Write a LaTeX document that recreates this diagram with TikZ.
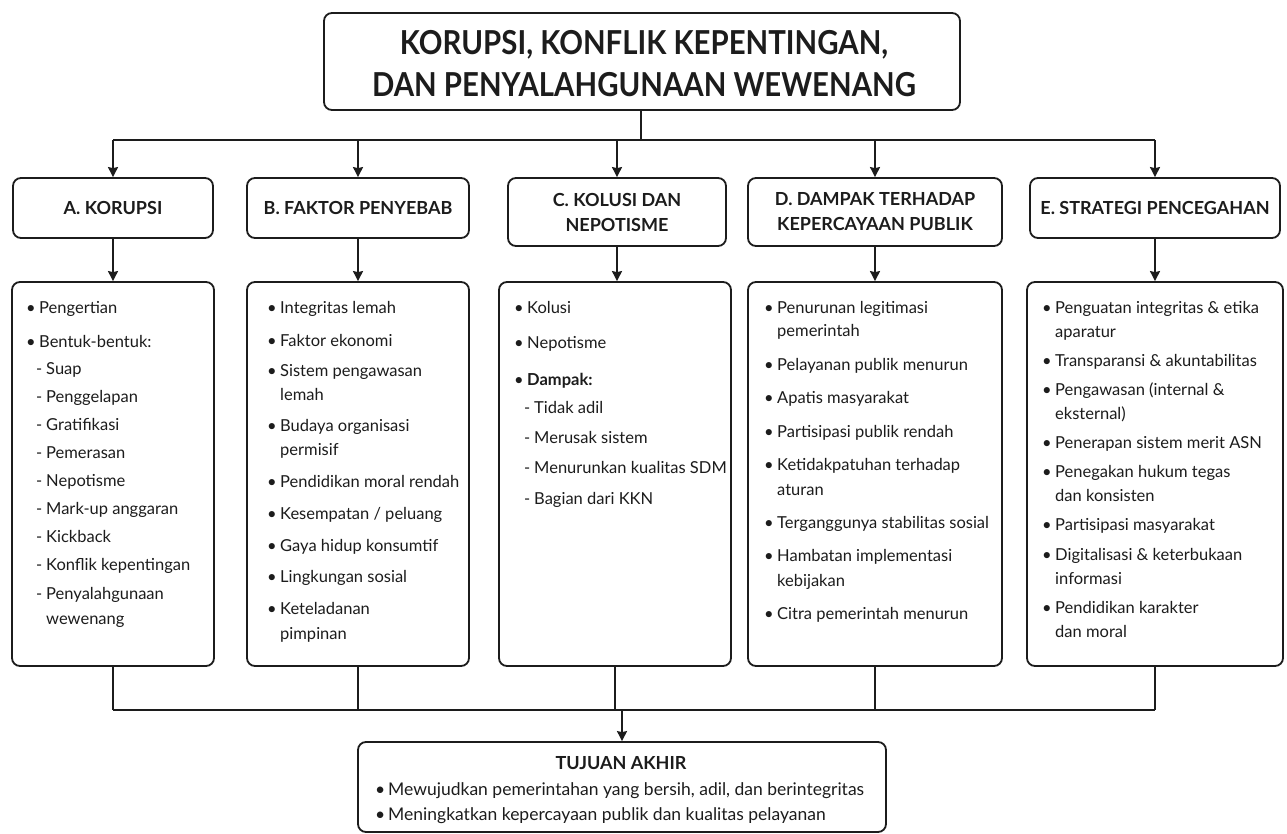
\documentclass[tikz,border=0pt]{standalone}
\usepackage{fontspec}
\setmainfont{Lato}
\usetikzlibrary{arrows.meta}
\definecolor{ink}{HTML}{1C1C1C}
% list helpers: bullet item, dash sub-item, continuation lines
\newcommand\lbul[1]{\makebox[13pt][l]{•}#1}
\newcommand\ldash[1]{\hspace*{10pt}\makebox[10pt][l]{-}#1}
\newcommand\lcont[1]{\hspace*{13pt}#1}
\newcommand\ldcont[1]{\hspace*{20pt}#1}
\tikzset{
  box/.style={draw=ink, line width=1.8pt, rounded corners=8pt, fill=white, inner sep=0pt},
  hdr/.style={box, font=\fontsize{18}{25}\selectfont\bfseries, align=center, text=ink},
  list/.style={anchor=base west, inner sep=0pt, text=ink, font=\fontsize{16.5}{24}\selectfont},
  link/.style={draw=ink, line width=1.8pt},
  arr/.style={link, -{Stealth[length=10pt,width=10pt,inset=1pt]}}
}
\begin{document}
\begin{tikzpicture}[x=1pt,y=-1pt]
\useasboundingbox[fill=white] (0,0) rectangle (1287,834);

% title
\node[box, minimum width=636pt, minimum height=97pt] (title) at (642,61.5) {};
\node[inner sep=0pt, text=ink, font=\fontsize{33}{42}\selectfont\bfseries] (titleT) at (644,67.6)
  {\scalebox{0.89}[1]{\begin{tabular}{@{}c@{}}KORUPSI, KONFLIK KEPENTINGAN,\\DAN PENYALAHGUNAAN WEWENANG\end{tabular}}};

% section headers
\node[hdr, minimum width=200pt, minimum height=60pt] (hA) at (113,208) {A. KORUPSI};
\node[hdr, minimum width=222pt, minimum height=60pt] (hB) at (358,208) {B. FAKTOR PENYEBAB};
\node[hdr, minimum width=218pt, minimum height=68pt] (hC) at (617,212) {C. KOLUSI DAN\\NEPOTISME};
\node[hdr, minimum width=254pt, minimum height=68pt] (hD) at (875,212) {D. DAMPAK TERHADAP\\KEPERCAYAAN PUBLIK};
\node[hdr, minimum width=250pt, minimum height=60pt] (hE) at (1155,208) {E. STRATEGI PENCEGAHAN};

% content boxes
\node[box, minimum width=202pt, minimum height=384pt] (cA) at (113,474) {};
\node[box, minimum width=222pt, minimum height=384pt] (cB) at (358,474) {};
\node[box, minimum width=232pt, minimum height=384pt] (cC) at (615,474) {};
\node[box, minimum width=254pt, minimum height=384pt] (cD) at (875,474) {};
\node[box, minimum width=256pt, minimum height=384pt] (cE) at (1155,474) {};

% lists
\node[list] (lA) at (26,313) {\begin{tabular}[t]{@{}l@{}}
\lbul{Pengertian}\\[10pt]
\lbul{Bentuk-bentuk:}\\[3pt]
\ldash{Suap}\\[4pt]
\ldash{Penggelapan}\\[4pt]
\ldash{Gratifikasi}\\[4pt]
\ldash{Pemerasan}\\[4pt]
\ldash{Nepotisme}\\[4pt]
\ldash{Mark-up anggaran}\\[4pt]
\ldash{Kickback}\\[4pt]
\ldash{Konflik kepentingan}\\[5pt]
\ldash{Penyalahgunaan}\\[1pt]
\ldcont{wewenang}
\end{tabular}};

\node[list] (lB) at (267,313) {\begin{tabular}[t]{@{}l@{}}
\lbul{Integritas lemah}\\[9pt]
\lbul{Faktor ekonomi}\\[6pt]
\lbul{Sistem pengawasan}\\
\lcont{lemah}\\[7pt]
\lbul{Budaya organisasi}\\
\lcont{permisif}\\[8pt]
\lbul{Pendidikan moral rendah}\\[8pt]
\lbul{Kesempatan / peluang}\\[8pt]
\lbul{Gaya hidup konsumtif}\\[7pt]
\lbul{Lingkungan sosial}\\[8pt]
\lbul{Keteladanan}\\[1pt]
\lcont{pimpinan}
\end{tabular}};

\node[list] (lC) at (514,313) {\begin{tabular}[t]{@{}l@{}}
\lbul{Kolusi}\\[11pt]
\lbul{Nepotisme}\\[13pt]
\lbul{\bfseries Dampak:}\\[4pt]
\ldash{Tidak adil}\\[6pt]
\ldash{Merusak sistem}\\[6pt]
\ldash{Menurunkan kualitas SDM}\\[7pt]
\ldash{Bagian dari KKN}
\end{tabular}};

\node[list] (lD) at (764,313) {\begin{tabular}[t]{@{}l@{}}
\lbul{Penurunan legitimasi}\\[-1pt]
\lcont{pemerintah}\\[10pt]
\lbul{Pelayanan publik menurun}\\[9pt]
\lbul{Apatis masyarakat}\\[10pt]
\lbul{Partisipasi publik rendah}\\[9pt]
\lbul{Ketidakpatuhan terhadap}\\[1pt]
\lcont{aturan}\\[9pt]
\lbul{Terganggunya stabilitas sosial}\\[9pt]
\lbul{Hambatan implementasi}\\[1pt]
\lcont{kebijakan}\\[9pt]
\lbul{Citra pemerintah menurun}
\end{tabular}};

\node[list] (lE) at (1042,313) {\begin{tabular}[t]{@{}l@{}}
\lbul{Penguatan integritas \& etika}\\
\lcont{aparatur}\\[5pt]
\lbul{Transparansi \& akuntabilitas}\\[5pt]
\lbul{Pengawasan (internal \&}\\
\lcont{eksternal)}\\[5pt]
\lbul{Penerapan sistem merit ASN}\\[5pt]
\lbul{Penegakan hukum tegas}\\
\lcont{dan konsisten}\\[5pt]
\lbul{Partisipasi masyarakat}\\[6pt]
\lbul{Digitalisasi \& keterbukaan}\\
\lcont{informasi}\\[5pt]
\lbul{Pendidikan karakter}\\
\lcont{dan moral}
\end{tabular}};

% final goal
\node[box, minimum width=528pt, minimum height=90pt] (goal) at (622,787) {};
\node[text=ink, inner sep=0pt, anchor=base, font=\fontsize{18}{20}\selectfont\bfseries] (goalT) at (621,769)
  {TUJUAN AKHIR};
\node[list, font=\fontsize{17.5}{25}\selectfont] (goalL) at (375,795) {\begin{tabular}[t]{@{}l@{}}
\lbul{Mewujudkan pemerintahan yang bersih, adil, dan berintegritas}\\
\lbul{Meningkatkan kepercayaan publik dan kualitas pelayanan}
\end{tabular}};

% connectors: title to headers
\coordinate (topbar) at (641,140);
\draw[link] (title.south -| topbar) -- (topbar);
\draw[link] (hA.north |- topbar) -- (hE.north |- topbar);
\foreach \h in {hA,hB,hC,hD,hE}
  \draw[arr] (\h.north |- topbar) -- (\h.north);

% headers to content
\foreach \h/\c in {hA/cA,hB/cB,hC/cC,hD/cD,hE/cE}
  \draw[arr] (\h.south) -- (\h.south |- \c.north);

% content to final goal
\coordinate (botbar) at (622,710);
\foreach \c in {cA,cB,cC,cD,cE}
  \draw[link] (\c.south) -- (\c.south |- botbar);
\draw[link] (cA.south |- botbar) -- (cE.south |- botbar);
\draw[arr] (goal.north |- botbar) -- (goal.north);
\end{tikzpicture}
\end{document}
